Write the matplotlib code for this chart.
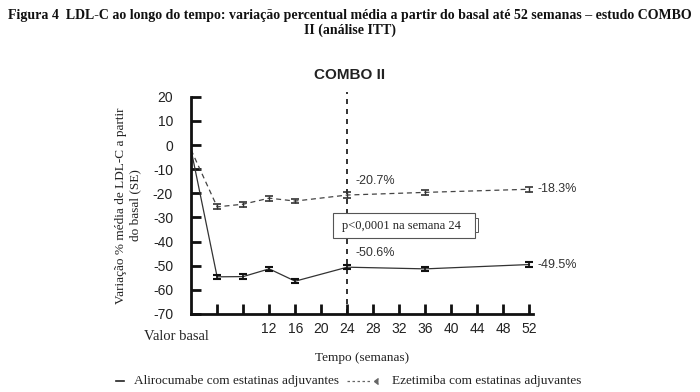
import matplotlib
matplotlib.use("Agg")
import matplotlib.pyplot as plt
from matplotlib.lines import Line2D
from matplotlib.patches import Rectangle

plt.rcParams["axes.unicode_minus"] = False

weeks = [0, 4, 8, 12, 16, 24, 36, 52]
alirocumab = [-2, -54.6, -54.5, -51.3, -56.4, -50.6, -51.3, -49.5]
alirocumab_se = [0, 0.9, 0.9, 0.9, 0.9, 0.9, 0.9, 0.9]
ezetimibe = [-2, -25.6, -24.5, -22.0, -23.2, -20.7, -19.6, -18.3]
ezetimibe_se = [0, 1.0, 1.0, 1.0, 1.0, 1.2, 1.0, 1.0]
xticks = [4, 8, 12, 16, 20, 24, 28, 32, 36, 40, 44, 48, 52]
xticklabels = ["", "", "12", "16", "20", "24", "28", "32", "36", "40", "44", "48", "52"]
yticks = [20, 10, 0, -10, -20, -30, -40, -50, -60, -70]

SERIF = "Liberation Serif"
SANS = "Liberation Sans"

fig = plt.figure(figsize=(7, 3.92), dpi=100)
ax = fig.add_axes([0.273, 0.199, 0.488, 0.554])

ax.errorbar(weeks[1:], alirocumab[1:], yerr=alirocumab_se[1:], fmt="none",
            ecolor="#111111", elinewidth=1.2, capsize=3, capthick=1.5, zorder=3)
ax.plot(weeks, alirocumab, color="#333333", lw=0.9, ls="-", zorder=2)
ax.errorbar(weeks[1:], ezetimibe[1:], yerr=ezetimibe_se[1:], fmt="none",
            ecolor="#333333", elinewidth=1.0, capsize=3, capthick=1.2, zorder=3)
ax.plot(weeks, ezetimibe, color="#444444", lw=0.9, ls=(0, (4, 3)), zorder=2)

ax.axvline(24, ymin=0, ymax=1.02, color="#111111", lw=1.2, ls=(0, (3, 3)), clip_on=False)

ax.set_xlim(0, 52.5)
ax.set_ylim(-70, 20)
ax.set_yticks(yticks)
ax.set_xticks(xticks)
ax.set_xticklabels(xticklabels)
for s in ["top", "right"]:
    ax.spines[s].set_visible(False)
for s in ["left", "bottom"]:
    ax.spines[s].set_linewidth(2)
    ax.spines[s].set_color("#111111")
ax.spines["bottom"].set_bounds(0, 52.5)
ax.tick_params(direction="in", length=7, width=2, color="#111111",
               labelsize=10, labelcolor="#222222")
ax.tick_params(axis="y", pad=13)
ax.tick_params(axis="x", pad=6)
for lab in ax.get_xticklabels() + ax.get_yticklabels():
    lab.set_fontfamily(SANS)

ax.set_ylabel("Variação % média de LDL-C a partir\ndo basal (SE)", fontfamily=SERIF,
              fontsize=9.5, color="#222222", labelpad=8, linespacing=1.3)
ax.set_xlabel("Tempo (semanas)", fontfamily=SERIF, fontsize=9.5, color="#222222", labelpad=11)
ax.text(-7.3, -79.5, "Valor basal", fontfamily=SERIF, fontsize=10.5, color="#222222",
        ha="left", va="center", clip_on=False)

# annotations
ax.text(25.2, -15, "-20.7%", fontfamily=SANS, fontsize=9, color="#333333", ha="left", va="center")
ax.text(25.2, -44.7, "-50.6%", fontfamily=SANS, fontsize=9, color="#333333", ha="left", va="center")
ax.text(53.2, -18.3, "-18.3%", fontfamily=SANS, fontsize=9, color="#333333", ha="left", va="center", clip_on=False)
ax.text(53.2, -49.5, "-49.5%", fontfamily=SANS, fontsize=9, color="#333333", ha="left", va="center", clip_on=False)

# p-value box
box = Rectangle((333 / 700, 1 - 238 / 392), 142 / 700, 25 / 392, transform=fig.transFigure,
                facecolor="white", edgecolor="#555555", lw=0.8, zorder=5)
fig.patches.append(box)
nub = Rectangle((475 / 700, 1 - 232 / 392), 3 / 700, 14 / 392, transform=fig.transFigure,
                facecolor="white", edgecolor="#555555", lw=0.7, zorder=5)
fig.patches.append(nub)
fig.text(342 / 700, 1 - 225.5 / 392, "p<0,0001 na semana 24", fontfamily=SERIF, fontsize=9,
         color="#222222", ha="left", va="center", zorder=6)

fig.text(350 / 700, 1 - 75 / 392, "COMBO II", fontfamily=SANS, fontweight="bold",
         fontsize=11, color="#222222", ha="center", va="center")

fig.text(0.5, 1 - 23 / 392,
         "Figura 4  LDL-C ao longo do tempo: variação percentual média a partir do basal até 52 semanas – estudo COMBO\nII (análise ITT)",
         fontfamily=SERIF, fontweight="bold", fontsize=10, color="#111111",
         ha="center", va="center", linespacing=1.15)

# legend
fig.lines.append(Line2D([116 / 700, 124 / 700], [1 - 381 / 392] * 2, transform=fig.transFigure,
                        color="#222222", lw=1.2))
fig.text(134 / 700, 1 - 381 / 392, "Alirocumabe com estatinas adjuvantes", fontfamily=SERIF,
         fontsize=9.5, color="#222222", ha="left", va="center")
fig.lines.append(Line2D([347 / 700, 372 / 700], [1 - 381 / 392] * 2, transform=fig.transFigure,
                        color="#666666", lw=0.9, ls=(0, (2, 2))))
fig.lines.append(Line2D([374 / 700], [1 - 381 / 392], transform=fig.transFigure,
                        color="#666666", marker=4, markersize=4, lw=0))
fig.text(392 / 700, 1 - 381 / 392, "Ezetimiba com estatinas adjuvantes", fontfamily=SERIF,
         fontsize=9.5, color="#222222", ha="left", va="center")

fig.savefig("out.png", dpi=100, facecolor="white")
